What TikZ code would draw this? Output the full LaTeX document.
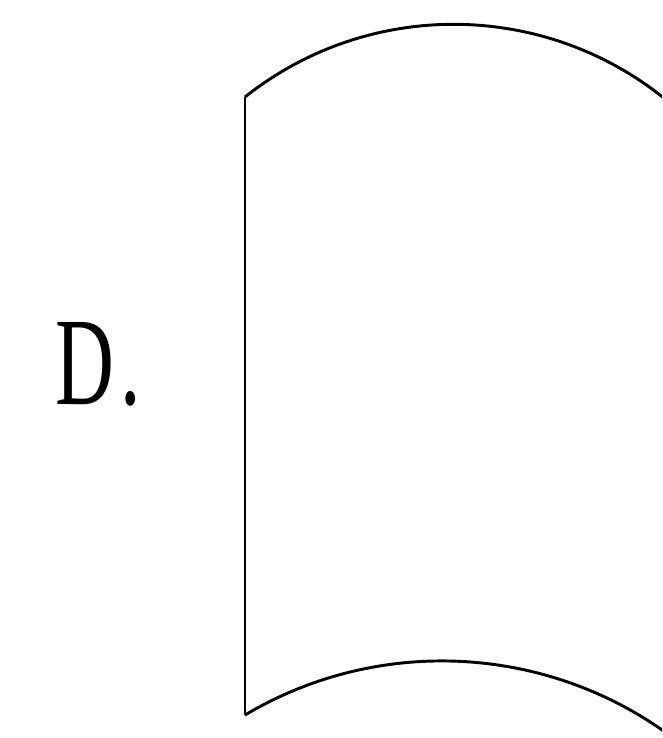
\documentclass[tikz,border=0pt]{standalone}
\usepackage{fontspec}
\setmainfont{Liberation Serif}
\usetikzlibrary{positioning}

\begin{document}
\begin{tikzpicture}[x=0.75pt,y=0.75pt,outline/.style={black,line width=2.2pt}]
  \useasboundingbox (0,0) rectangle (662,738);
  \clip (0,0) rectangle (662,738);
  \node[font=\fontsize{94}{94}\selectfont,xscale=0.65,anchor=base west,inner sep=0pt] (lbl) at (55,333) {D\kern0.08em.};
  \coordinate (tl) at (245,641);
  \coordinate (bl) at (245,23);
  \draw[outline] (tl) -- (bl);
  \draw[outline] (tl) arc[start angle=128.4,end angle=40,radius=336];
  \draw[outline] (bl) arc[start angle=120.7,end angle=45,radius=385.7];
\end{tikzpicture}
\end{document}
